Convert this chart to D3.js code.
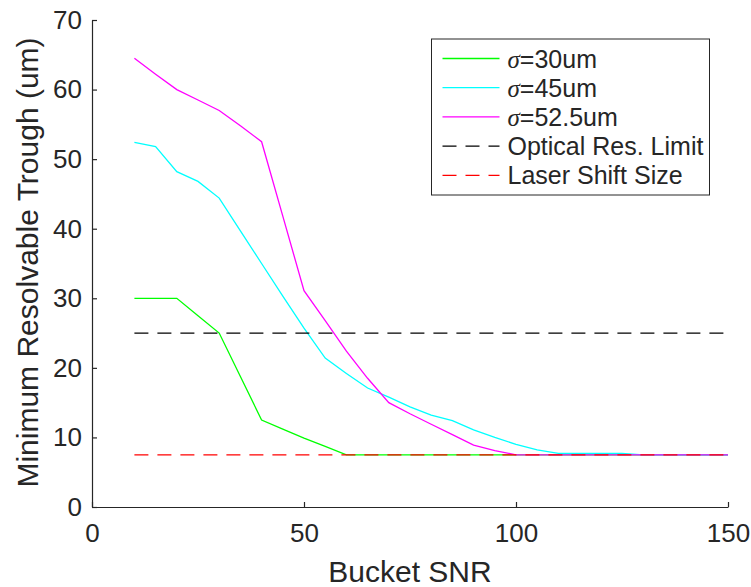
<!DOCTYPE html>
<html>
<head>
<meta charset="utf-8">
<script src="https://cdn.jsdelivr.net/npm/d3@7"></script>
<style>
  body { margin: 0; background: #fff; }
  text { font-family: "Liberation Sans", Arial, sans-serif; fill: #262626; }
</style>
</head>
<body>
<div id="chart"></div>
<script>
"use strict";

// data
var snr = [10, 15, 20, 25, 30, 35, 40, 45, 50, 55, 60, 65, 70, 75, 80, 85, 90, 95, 100,
  105, 110, 115, 120, 125, 130, 135, 140, 145, 150];
var sigma30 = [30, 30, 30, 27.5, 25, 18.75, 12.5, 11.2, 9.9, 8.7, 7.5, 7.5, 7.5, 7.5, 7.5, 7.5, 7.5, 7.5, 7.5,
  7.5, 7.5, 7.5, 7.5, 7.5, 7.5, 7.5, 7.5, 7.5, 7.5];
var sigma45 = [52.4, 51.8, 48.2, 46.8, 44.4, 39.7, 35.0, 30.3, 25.7, 21.4, 19.2, 17.1, 15.8, 14.4, 13.2, 12.4, 11.1, 10.0, 9.0,
  8.2, 7.7, 7.7, 7.7, 7.7, 7.5, 7.5, 7.5, 7.5, 7.5];
var sigma525 = [64.5, 62.2, 60, 58.5, 57, 54.8, 52.5, 41.8, 31.1, 26.8, 22.4, 18.5, 15, 13.4, 11.9, 10.4, 8.9, 8.1, 7.5,
  7.5, 7.5, 7.5, 7.5, 7.5, 7.5, 7.5, 7.5, 7.5, 7.5];
var opticalLimit = 25;
var laserShift = 7.5;
var xTicks = [0, 50, 100, 150];
var yTicks = [0, 10, 20, 30, 40, 50, 60, 70];
var seriesNames = ["=30um", "=45um", "=52.5um", "Optical Res. Limit", "Laser Shift Size"];

var W = 751, H = 587;
var margin = { top: 20, right: 23, bottom: 80, left: 92 };
var width = W - margin.left - margin.right;
var height = H - margin.top - margin.bottom;

var svg = d3.select("#chart").append("svg").attr("width", W).attr("height", H)
  .append("g").attr("transform", "translate(" + margin.left + "," + margin.top + ")");

var xScale = d3.scaleLinear().domain([0, 150]).range([0, width]);
var yScale = d3.scaleLinear().domain([0, 70]).range([height, 0]);

var line = d3.line().x(function (d) { return xScale(d[0]); }).y(function (d) { return yScale(d[1]); });

var series = [
  { vals: sigma30, color: "#00ff00", dash: null },
  { vals: sigma45, color: "#00ffff", dash: null },
  { vals: sigma525, color: "#ff00ff", dash: null },
  { vals: snr.map(function () { return opticalLimit; }), color: "#000000", dash: "14,9" },
  { vals: snr.map(function () { return laserShift; }), color: "#ff0000", dash: "14,9" }
];

series.forEach(function (s) {
  svg.append("path")
    .datum(snr.map(function (x, i) { return [x, s.vals[i]]; }))
    .attr("d", line)
    .attr("fill", "none")
    .attr("stroke", s.color)
    .attr("stroke-width", 1.3)
    .attr("stroke-dasharray", s.dash);
});

// axes (box off, ticks inside)
var xAxis = svg.append("g").attr("transform", "translate(0," + height + ")")
  .call(d3.axisBottom(xScale).tickValues(xTicks).tickSize(-5).tickSizeOuter(0).tickPadding(17));
var yAxis = svg.append("g")
  .call(d3.axisLeft(yScale).tickValues(yTicks).tickSize(-5).tickSizeOuter(0).tickPadding(10));

[xAxis, yAxis].forEach(function (ax) {
  ax.select(".domain").attr("stroke", "#262626").attr("stroke-width", 1.2);
  ax.selectAll(".tick line").attr("stroke", "#262626").attr("stroke-width", 1.2);
  ax.selectAll(".tick text").attr("font-size", 26).attr("fill", "#262626")
    .attr("font-family", "Liberation Sans, Arial, sans-serif");
});

svg.append("text").attr("text-anchor", "middle")
  .attr("transform", "translate(" + width / 2 + "," + (height + 75) + ")")
  .attr("font-size", 30).text("Bucket SNR");

svg.append("text").attr("text-anchor", "middle")
  .attr("transform", "translate(-54," + (height / 2 - 1) + ")rotate(-90)")
  .attr("font-size", 30).text("Minimum Resolvable Trough (um)");

// legend
var lx = 431.5 - margin.left, ly = 39 - margin.top;
var legend = svg.append("g").attr("transform", "translate(" + lx + "," + ly + ")");
legend.append("rect").attr("width", 278).attr("height", 156)
  .attr("fill", "#fff").attr("stroke", "#262626").attr("stroke-width", 1);

series.forEach(function (s, i) {
  var yy = 19.5 + i * 29.2;
  legend.append("line").attr("x1", 11).attr("x2", 68).attr("y1", yy).attr("y2", yy)
    .attr("stroke", s.color).attr("stroke-width", 1.3)
    .attr("stroke-dasharray", s.dash);
  var t = legend.append("text").attr("x", 76).attr("y", yy + 9).attr("font-size", 25);
  if (i < 3) {
    t.append("tspan").attr("font-family", "Liberation Serif, serif").attr("font-style", "italic").text("σ");
    t.append("tspan").text(seriesNames[i]);
  } else {
    t.text(seriesNames[i]);
  }
});
</script>
</body>
</html>
